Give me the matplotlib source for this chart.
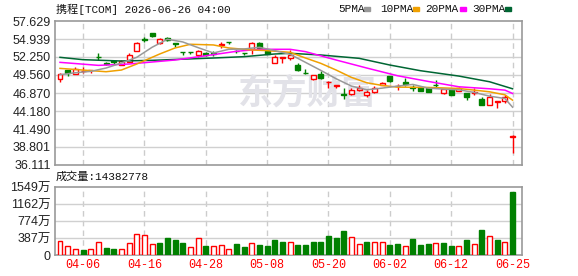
import matplotlib
matplotlib.use('Agg')
import matplotlib.pyplot as plt
import matplotlib.patches as patches
import numpy as np

# daily OHLC (index 0 = first candle)
opens = [48.9, 50.3, 49.7, 50.1, 50.25, 52.25, 51.4, 51.6, 51.05, 51.55,
         53.15, 55.0, 55.8, 54.3, 55.1, 54.35, 53.0, 53.0, 52.55, 52.9,
         52.85, 54.0, 54.5, 53.2, 52.9, 53.4, 54.4, 53.2, 51.4, 52.1,
         52.05, 51.1, 49.85, 48.9, 49.7, 48.45, 47.95, 46.65, 46.7, 47.25,
         46.55, 47.0, 48.05, 49.35, 47.9, 48.45, 47.8, 47.7, 47.6, 48.1,
         46.9, 47.4, 47.15, 46.8, 46.8, 46.0, 45.1, 45.55, 45.6, 40.3]
highs = [49.8, 50.3, 50.8, 50.8, 50.35, 52.9, 51.45, 51.8, 51.75, 52.8,
         54.55, 55.3, 55.9, 55.1, 55.2, 54.4, 53.0, 53.0, 53.3, 53.0,
         53.2, 54.45, 54.5, 53.35, 52.9, 54.45, 54.5, 53.3, 52.5, 52.25,
         53.3, 51.35, 50.4, 49.6, 50.1, 48.6, 48.1, 47.6, 47.65, 48.05,
         47.3, 47.95, 48.5, 49.4, 48.2, 49.1, 48.0, 47.75, 47.65, 48.8,
         47.45, 47.45, 47.7, 46.85, 47.6, 46.2, 46.65, 45.65, 46.55, 40.6]
lows = [48.5, 49.4, 49.7, 49.8, 49.9, 51.8, 51.0, 51.15, 51.0, 51.5,
        53.1, 54.5, 55.3, 54.2, 54.7, 53.8, 52.5, 52.65, 52.2, 52.4,
        52.4, 53.6, 54.15, 52.9, 52.55, 52.7, 53.5, 52.7, 51.3, 51.3,
        51.8, 50.2, 49.75, 48.8, 49.0, 47.6, 47.6, 46.0, 46.6, 47.2,
        46.3, 46.9, 48.0, 48.5, 47.3, 47.9, 47.2, 47.1, 46.95, 47.7,
        46.65, 46.55, 47.1, 45.8, 46.6, 45.05, 45.05, 44.6, 45.4, 37.95]
closes = [49.75, 49.9, 50.4, 50.15, 50.3, 52.2, 51.2, 51.45, 51.7, 52.55,
          54.3, 54.85, 55.4, 55.0, 54.85, 54.25, 52.95, 52.95, 53.2, 52.5,
          52.75, 54.2, 54.45, 53.1, 52.85, 54.4, 53.55, 52.75, 52.3, 52.2,
          52.5, 50.35, 49.8, 49.5, 49.05, 48.55, 48.05, 46.55, 47.3, 47.65,
          47.05, 47.55, 48.4, 48.6, 47.95, 48.15, 47.6, 47.2, 47.05, 48.0,
          47.4, 46.6, 47.65, 46.2, 46.95, 45.15, 46.3, 45.6, 46.3, 40.45]

# volume in 万 shares, 1 = red (up on prev close), 0 = green
volume = [317, 204, 136, 113, 136, 287, 166, 144, 136, 265,
          469, 446, 242, 265, 386, 340, 272, 174, 378, 204,
          197, 219, 136, 249, 181, 265, 227, 204, 340, 302,
          287, 227, 227, 295, 295, 431, 386, 544, 401, 249,
          295, 295, 295, 227, 249, 204, 363, 227, 249, 265,
          265, 204, 204, 340, 249, 567, 431, 340, 295, 1438]
vol_up = [1, 1, 1, 0, 1, 1, 0, 0, 1, 1,
          1, 1, 1, 0, 0, 0, 0, 1, 1, 0,
          1, 1, 1, 0, 0, 1, 0, 0, 0, 0,
          1, 0, 0, 0, 0, 0, 0, 0, 1, 1,
          0, 1, 1, 0, 0, 1, 0, 0, 0, 1,
          0, 0, 1, 0, 1, 0, 1, 0, 1, 0]

# moving averages read at a few points along each line
ma5_idx = [0, 2, 4, 6, 8, 10, 12, 14, 16, 18, 20, 22, 24, 26, 28, 30,
           32, 34, 36, 38, 40, 42, 44, 46, 48, 50, 52, 54, 56, 58, 59]
ma5 = [49.6, 49.9, 50.1, 50.6, 51.35, 52.2, 53.7, 54.9, 54.5, 53.65, 52.85,
       53.4, 53.45, 53.7, 53.2, 52.65, 51.45, 50.25, 49.0, 47.9, 47.35,
       47.6, 47.9, 48.15, 47.6, 47.45, 47.35, 46.95, 46.4, 46.05, 44.75]
ma10_idx = [0, 3, 6, 8, 10, 12, 13, 15, 17, 20, 22, 25, 27, 30, 32, 34,
            36, 38, 40, 42, 44, 48, 52, 56, 58, 59]
ma10 = [50.55, 50.3, 50.05, 50.3, 51.2, 52.2, 52.7, 53.6, 54.15, 54.05,
        53.6, 53.3, 53.2, 52.95, 52.1, 51.3, 50.3, 49.2, 48.4, 48.0,
        47.75, 47.7, 47.55, 47.05, 46.6, 45.8]
ma20_idx = [0, 5, 9, 12, 15, 20, 23, 26, 30, 32, 36, 40, 44, 48, 52, 56, 58, 59]
ma20 = [51.45, 51.0, 51.2, 51.5, 51.8, 52.6, 53.1, 53.4, 53.4, 53.05,
        51.8, 50.6, 49.45, 48.6, 47.8, 47.5, 47.3, 46.8]
ma30_idx = [0, 3, 8, 12, 20, 24, 28, 30, 34, 39, 43, 47, 52, 56, 59]
ma30 = [52.2, 51.85, 51.65, 51.75, 52.1, 52.3, 52.7, 52.8, 52.55, 52.05,
        51.05, 50.2, 49.4, 48.55, 47.5]

price_ticks = [36.111, 38.801, 41.490, 44.180, 46.870, 49.560, 52.250, 54.939, 57.629]
vol_ticks = [0, 387, 774, 1162, 1549]
vol_labels = ['0', '387万', '774万', '1162万', '1549万']
date_idx = [3, 11, 19, 27, 35, 43, 51, 59]
date_labels = ['04-06', '04-16', '04-28', '05-08', '05-20', '06-02', '06-12', '06-25']

RED = '#ff0000'
GREEN = '#008000'
W, H = 578.0, 276.0
cjk = ['Liberation Sans', 'Noto Sans CJK SC', 'DejaVu Sans']
mono = ['Liberation Mono', 'Noto Sans CJK SC', 'DejaVu Sans']

fig = plt.figure(figsize=(W / 100, H / 100), dpi=100)
ax1 = fig.add_axes([55 / W, 1 - 165 / H, 467 / W, 144 / H])
ax2 = fig.add_axes([55 / W, 1 - 255 / H, 467 / W, 68 / H])

x = np.arange(len(closes))
for ax in (ax1, ax2):
    ax.set_xlim(-0.652, 60.23)
    for s in ax.spines.values():
        s.set_color('#999999')
        s.set_linewidth(1.2)
    for d in date_idx:
        ax.axvline(d, color='#cccccc', lw=1, ls=(0, (4, 3)), zorder=0)
    ax.tick_params(length=0, labelsize=9, pad=3, colors='#222222')

# price panel
ax1.set_ylim(price_ticks[0], price_ticks[-1])
ax1.set_yticks(price_ticks)
ax1.set_yticklabels(['%.3f' % v for v in price_ticks], family=cjk)
ax1.set_xticks([])
for v in price_ticks[1:-1]:
    ax1.axhline(v, color='#d0d0d0', lw=1, zorder=0)

ax1.text(0.54, 0.5, '东方财富', transform=ax1.transAxes, ha='center', va='center',
         fontsize=25, fontweight='bold', color='#e2e2e8', family=['Noto Sans CJK SC'], zorder=0)

for i in x:
    o, h, l, c = opens[i], highs[i], lows[i], closes[i]
    col = RED if c >= o else GREEN
    ax1.vlines(i, l, h, color=col, lw=1, zorder=2)
    ax1.bar(i, c - o, bottom=o, width=0.65, facecolor='white' if c >= o else GREEN,
            edgecolor=col, lw=1, zorder=3)

ax1.plot(ma30_idx, ma30, color='#006633', lw=1.1, zorder=4)
ax1.plot(ma20_idx, ma20, color='#ff00ff', lw=1.1, zorder=4)
ax1.plot(ma10_idx, ma10, color='#f0a000', lw=1.1, zorder=4)
ax1.plot(ma5_idx, ma5, color='#999999', lw=1.1, zorder=4)

# volume panel
ax2.set_ylim(0, 1549)
ax2.set_yticks(vol_ticks)
ax2.set_yticklabels(vol_labels, family=cjk)
for v in vol_ticks[1:-1]:
    ax2.axhline(v, color='#d0d0d0', lw=1, zorder=0)
ax2.bar(x, volume, width=0.65,
        facecolor=['white' if u else GREEN for u in vol_up],
        edgecolor=[RED if u else GREEN for u in vol_up], lw=1, zorder=3)
ax2.set_xticks(date_idx)
ax2.set_xticklabels(date_labels, family=mono, fontsize=8.5, color=RED)

# header texts
fig.text(56 / W, 1 - 9 / H, '携程[TCOM] 2026-06-26 04:00', family=mono, fontsize=8,
         va='center', ha='left', color='#111111')
fig.text(56 / W, 1 - 177 / H, '成交量:14382778', family=mono, fontsize=8,
         va='center', ha='left', color='#111111')

leg_names = ['5PMA', '10PMA', '20PMA', '30PMA']
leg_cols = ['#999999', '#f0a000', '#ff00ff', '#006633']
leg_x = [338.7, 380, 425, 472]
leg_mx = [364.5, 413, 459.5, 504.5]
for name, col, lx, mx in zip(leg_names, leg_cols, leg_x, leg_mx):
    fig.text(lx / W, 1 - 9 / H, name, family=mono, fontsize=8, va='center', ha='left',
             color='#111111')
    fig.patches.append(patches.Rectangle((mx / W, 1 - 10.5 / H), 6 / W, 3 / H,
                                         transform=fig.transFigure, color=col))

plt.savefig('out.png', dpi=100)
